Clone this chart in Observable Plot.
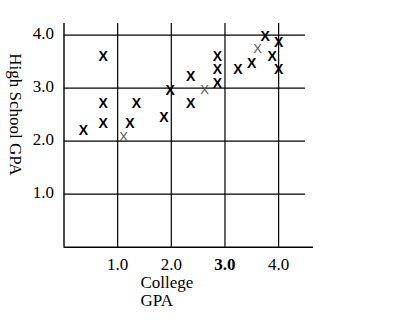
<!DOCTYPE html>
<html>
<head>
<meta charset="utf-8">
<script src="https://cdn.jsdelivr.net/npm/d3@7"></script>
<script src="https://cdn.jsdelivr.net/npm/@observablehq/plot@0.6"></script>
<style>
  html, body { margin: 0; padding: 0; background: #fff; }
</style>
</head>
<body>
<div id="chart"></div>
<script>
// College GPA (x) and High School GPA (y) for the bold markers
const boldCollege = [0.36, 0.73, 0.73, 0.73, 1.23, 1.35, 1.86, 1.98, 2.36, 2.36, 2.86, 2.86, 2.86, 3.24, 3.50, 3.75, 3.88, 4.00, 4.00];
const boldHigh    = [2.20, 3.60, 2.71, 2.34, 2.34, 2.71, 2.44, 2.96, 3.22, 2.71, 3.60, 3.36, 3.09, 3.36, 3.47, 3.98, 3.60, 3.87, 3.36];
// lighter markers
const lightCollege = [1.11, 2.62, 3.61];
const lightHigh    = [2.08, 2.97, 3.74];
// tick values / labels
const xTicks = [1, 2, 3, 4];
const yTicks = [1, 2, 3, 4];
const xTickLabels = ["1.0", "2.0", "3.0", "4.0"];
const yTickLabels = ["1.0", "2.0", "3.0", "4.0"];
const boldTickLabel = "3.0";
const xTitle = "College\nGPA";
const yTitle = "High School GPA";

const bold = boldCollege.map((x, i) => ({x, y: boldHigh[i]}));
const light = lightCollege.map((x, i) => ({x, y: lightHigh[i]}));
const xt = xTicks.map((v, i) => ({v, label: xTickLabels[i]}));
const yt = yTicks.map((v, i) => ({v, label: yTickLabels[i]}));

const serif = "Liberation Serif, Times New Roman, serif";
const sans = "Liberation Sans, Arial, sans-serif";
const xMax = 4.65, yMax = 4.22, gridEnd = 4.5;

const chart = Plot.plot({
  width: 405,
  height: 322,
  marginLeft: 63.5,
  marginRight: 92,
  marginTop: 23,
  marginBottom: 75.3,
  style: {background: "#fff", overflow: "visible"},
  x: {domain: [0, xMax], axis: null},
  y: {domain: [0, yMax], axis: null},
  marks: [
    // horizontal grid lines
    Plot.ruleY(yTicks, {x1: 0, x2: gridEnd, stroke: "#000", strokeWidth: 1.2}),
    // vertical grid lines
    Plot.ruleX(xTicks, {y1: 0, y2: yMax, stroke: "#000", strokeWidth: 1.2}),
    // axes
    Plot.ruleY([0], {x1: 0, x2: xMax, stroke: "#000", strokeWidth: 1.4}),
    Plot.ruleX([0], {y1: 0, y2: yMax, stroke: "#000", strokeWidth: 1.4}),
    // y tick labels
    Plot.text(yt, {x: 0, y: "v", text: "label", textAnchor: "end", dx: -10, dy: -2, fontFamily: serif, fontSize: 17, fill: "#000"}),
    // x tick labels
    Plot.text(xt.filter(d => d.label !== boldTickLabel), {x: "v", y: 0, text: "label", lineAnchor: "top", dy: 11, fontFamily: serif, fontSize: 17, fill: "#000"}),
    Plot.text(xt.filter(d => d.label === boldTickLabel), {x: "v", y: 0, text: "label", lineAnchor: "top", dy: 11, fontFamily: serif, fontSize: 17, fontWeight: "bold", fill: "#000"}),
    // axis titles
    Plot.text([xTitle], {frameAnchor: "bottom-left", dx: 76.5, dy: 28, text: d => d, textAnchor: "start", lineAnchor: "top", lineHeight: 1.06, fontFamily: serif, fontSize: 17, fill: "#000"}),
    Plot.text([yTitle], {frameAnchor: "left", dx: -49, dy: -21, text: d => d, textAnchor: "middle", lineAnchor: "middle", rotate: 90, fontFamily: serif, fontSize: 17, fill: "#000"}),
    // markers
    Plot.text(light, {x: "x", y: "y", text: () => "X", fontFamily: sans, fontSize: 13, fill: "#555"}),
    Plot.text(bold, {x: "x", y: "y", text: () => "X", fontFamily: sans, fontSize: 14, fontWeight: "bold", fill: "#000"})
  ]
});
document.getElementById("chart").appendChild(chart);
</script>
</body>
</html>
